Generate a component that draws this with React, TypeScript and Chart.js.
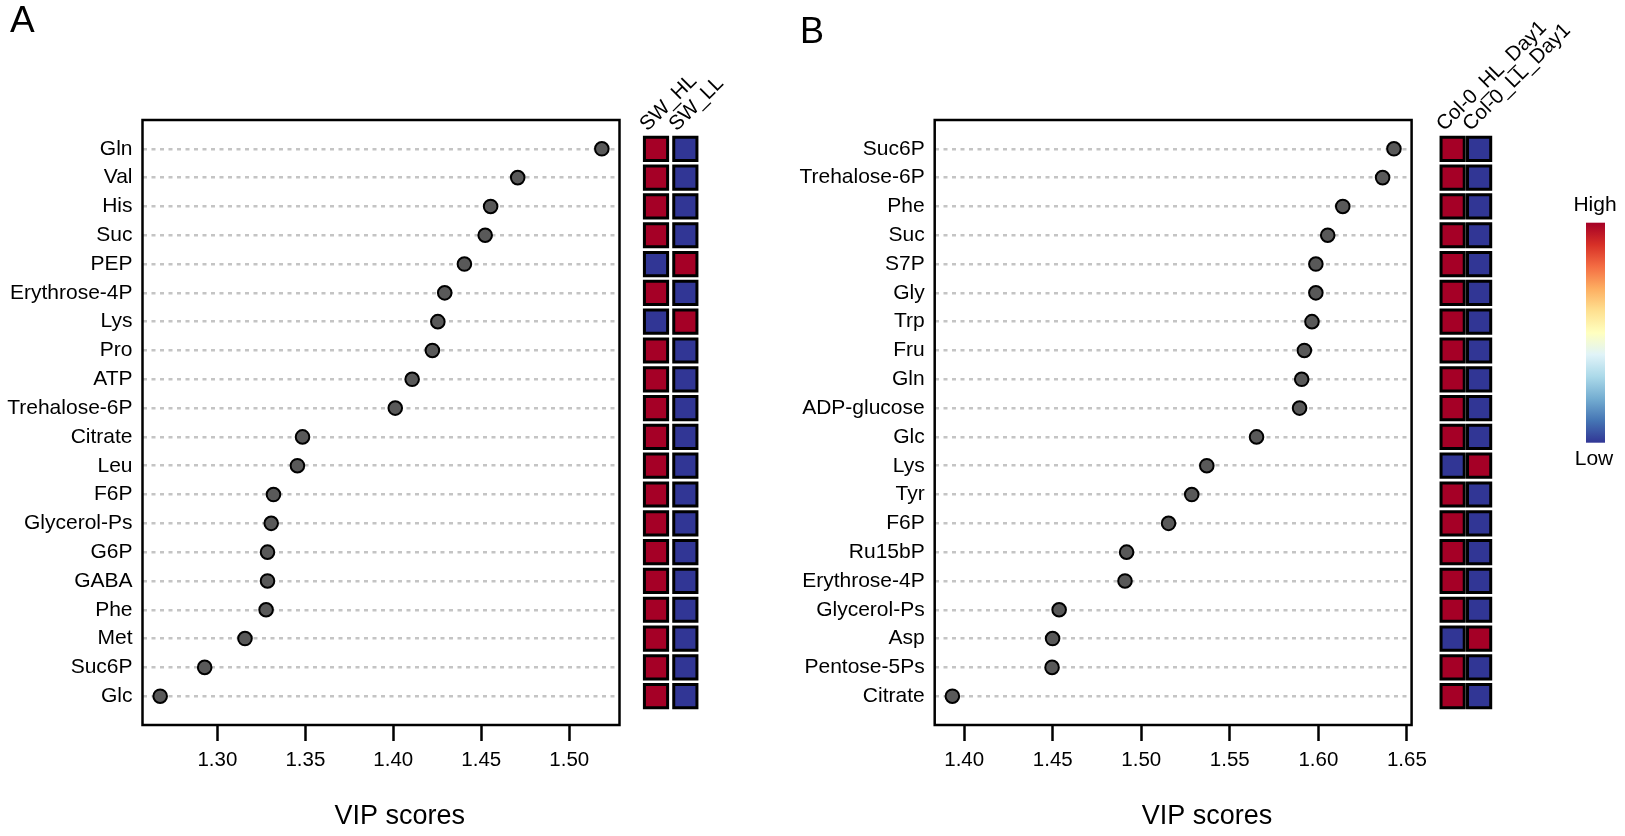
import React, { useEffect, useRef } from 'react';
import { Chart, registerables } from 'chart.js';

Chart.register(...registerables);

// ---------------- Panel A data ----------------
const namesA = ['Gln', 'Val', 'His', 'Suc', 'PEP', 'Erythrose-4P', 'Lys', 'Pro', 'ATP', 'Trehalose-6P', 'Citrate', 'Leu', 'F6P', 'Glycerol-Ps', 'G6P', 'GABA', 'Phe', 'Met', 'Suc6P', 'Glc'];
const vipA = [1.5185, 1.4707, 1.4553, 1.4522, 1.4404, 1.4292, 1.4253, 1.4222, 1.4107, 1.4011, 1.3484, 1.3455, 1.3319, 1.3306, 1.3285, 1.3285, 1.3277, 1.3157, 1.2928, 1.2675];
const groupsA = ['SW_HL', 'SW_LL'];
// 1 = High, 0 = Low
const levelA_HL = [1, 1, 1, 1, 0, 1, 0, 1, 1, 1, 1, 1, 1, 1, 1, 1, 1, 1, 1, 1];
const levelA_LL = [0, 0, 0, 0, 1, 0, 1, 0, 0, 0, 0, 0, 0, 0, 0, 0, 0, 0, 0, 0];
const ticksA = [1.3, 1.35, 1.4, 1.45, 1.5];

// ---------------- Panel B data ----------------
const namesB = ['Suc6P', 'Trehalose-6P', 'Phe', 'Suc', 'S7P', 'Gly', 'Trp', 'Fru', 'Gln', 'ADP-glucose', 'Glc', 'Lys', 'Tyr', 'F6P', 'Ru15bP', 'Erythrose-4P', 'Glycerol-Ps', 'Asp', 'Pentose-5Ps', 'Citrate'];
const vipB = [1.6427, 1.6363, 1.6138, 1.6053, 1.5986, 1.5986, 1.5964, 1.5921, 1.5906, 1.5894, 1.5651, 1.537, 1.5285, 1.5154, 1.4917, 1.4908, 1.4536, 1.4499, 1.4496, 1.3933];
const groupsB = ['Col-0_HL_Day1', 'Col-0_LL_Day1'];
const levelB_HL = [1, 1, 1, 1, 1, 1, 1, 1, 1, 1, 1, 0, 1, 1, 1, 1, 1, 0, 1, 1];
const levelB_LL = [0, 0, 0, 0, 0, 0, 0, 0, 0, 0, 0, 1, 0, 0, 0, 0, 0, 1, 0, 0];
const ticksB = [1.4, 1.45, 1.5, 1.55, 1.6, 1.65];

// ---------------- styles ----------------
const FONT = '"Liberation Sans", Arial, Helvetica, sans-serif';
const HIGH = '#A50026';
const LOW = '#313695';
const RDYLBU = ['#a50026', '#d73027', '#f46d43', '#fdae61', '#fee090', '#ffffbf', '#e0f3f8', '#abd9e9', '#74add1', '#4575b4', '#313695'];
const AREA_TOP = 120;
const AXIS_H = 111;
const H = 836;

const framePlugin = {
  id: 'frame',
  afterDatasetsDraw(chart: any) {
    const { ctx, chartArea: a } = chart;
    ctx.save();
    ctx.strokeStyle = '#000';
    ctx.lineWidth = 2.5;
    ctx.strokeRect(a.left, a.top, a.right - a.left, a.bottom - a.top);
    ctx.restore();
  },
};

function letterPlugin(letter: string, x: number, y: number, size: number) {
  return {
    id: 'letter' + letter,
    afterDraw(chart: any) {
      const ctx = chart.ctx;
      ctx.save();
      ctx.fillStyle = '#000';
      ctx.font = `${size}px ${FONT}`;
      ctx.textAlign = 'left';
      ctx.textBaseline = 'alphabetic';
      ctx.fillText(letter, x, y);
      ctx.restore();
    },
  };
}

function dotConfig(names: string[], vals: number[], ticks: number[], yWidth: number, padRight: number, titleSpaces: number, letter: any) {
  const lo = Math.min(...vals);
  const hi = Math.max(...vals);
  const ext = (hi - lo) * 0.04;
  return {
    type: 'scatter',
    data: {
      datasets: [
        {
          data: vals.map((v, i) => ({ x: v, y: i + 1 })),
          pointRadius: 6.8,
          pointBackgroundColor: '#595959',
          pointBorderColor: '#000',
          pointBorderWidth: 2,
          showLine: false,
          clip: false,
        },
      ],
    },
    options: {
      responsive: false,
      animation: false,
      events: [],
      layout: { padding: { left: 0, right: padRight, top: AREA_TOP, bottom: 0 } },
      plugins: { legend: { display: false }, tooltip: { enabled: false } },
      scales: {
        x: {
          type: 'linear',
          min: lo - ext,
          max: hi + ext,
          afterBuildTicks: (s: any) => {
            s.ticks = ticks.map((v) => ({ value: v }));
          },
          afterFit: (s: any) => {
            s.height = AXIS_H;
          },
          grid: { display: true, drawOnChartArea: false, drawTicks: true, tickLength: 16, tickWidth: 2.5, tickColor: '#000' },
          border: { display: false },
          ticks: {
            callback: (v: any) => Number(v).toFixed(2),
            color: '#000',
            font: { family: FONT, size: 20.5 },
            padding: 7,
            maxRotation: 0,
            autoSkip: false,
          },
          title: {
            display: true,
            text: ' '.repeat(titleSpaces) + 'VIP scores',
            color: '#000',
            font: { family: FONT, size: 27 },
            padding: { top: 0, bottom: 3.5 },
          },
        },
        y: {
          type: 'linear',
          reverse: true,
          min: 0,
          max: names.length + 1,
          afterBuildTicks: (s: any) => {
            s.ticks = names.map((_, i) => ({ value: i + 1 }));
          },
          afterFit: (s: any) => {
            s.width = yWidth;
          },
          grid: { color: '#c4c4c4', lineWidth: 2.5, drawTicks: false },
          border: { display: false, dash: [4, 4.5] },
          ticks: {
            callback: (v: any) => names[Number(v) - 1] ?? '',
            color: '#000',
            font: { family: FONT, size: 21 },
            padding: 10,
            autoSkip: false,
          },
        },
      },
    },
    plugins: [framePlugin, letter],
  };
}

function headerPlugin(groups: string[]) {
  return {
    id: 'headers',
    afterDraw(chart: any) {
      const { ctx } = chart;
      const xs = chart.scales.x;
      const ys = chart.scales.y;
      ctx.save();
      ctx.fillStyle = '#000';
      ctx.font = `20.5px ${FONT}`;
      ctx.textAlign = 'left';
      ctx.textBaseline = 'alphabetic';
      groups.forEach((g, j) => {
        const x = xs.getPixelForValue(j + 1) - 8.5;
        const y = ys.getPixelForValue(1) - 17;
        ctx.save();
        ctx.translate(x, y);
        ctx.rotate(-Math.PI / 4);
        ctx.fillText(g, 0, 0);
        ctx.restore();
      });
      ctx.restore();
    },
  };
}

const colorLegendPlugin = {
  id: 'colorLegend',
  afterDraw(chart: any) {
    const { ctx } = chart;
    const x0 = 166, x1 = 185, y0 = 222.7, y1 = 442.7;
    ctx.save();
    const g = ctx.createLinearGradient(0, y0, 0, y1);
    RDYLBU.forEach((c, i) => g.addColorStop(i / (RDYLBU.length - 1), c));
    ctx.fillStyle = g;
    ctx.fillRect(x0, y0, x1 - x0, y1 - y0);
    ctx.fillStyle = '#000';
    ctx.font = `21px ${FONT}`;
    ctx.textAlign = 'center';
    ctx.textBaseline = 'middle';
    ctx.fillText('High', 175, 205);
    ctx.fillText('Low', 174, 459);
    ctx.restore();
  },
};

function heatConfig(hl: number[], ll: number[], groups: string[], padLeft: number, padRight: number, extra: any[]) {
  const cells: { x: number; y: number }[] = [];
  const colors: string[] = [];
  [hl, ll].forEach((arr, j) => {
    arr.forEach((lvl, i) => {
      cells.push({ x: j + 1, y: i + 1 });
      colors.push(lvl ? HIGH : LOW);
    });
  });
  return {
    type: 'scatter',
    data: {
      datasets: [
        {
          data: cells,
          pointStyle: 'rect',
          pointRadius: 16.4,
          pointBackgroundColor: colors,
          pointBorderColor: '#000',
          pointBorderWidth: 3,
          showLine: false,
          clip: false,
        },
      ],
    },
    options: {
      responsive: false,
      animation: false,
      events: [],
      layout: { padding: { left: padLeft, right: padRight, top: AREA_TOP, bottom: AXIS_H } },
      plugins: { legend: { display: false }, tooltip: { enabled: false } },
      scales: {
        x: { type: 'linear', min: 0.5, max: 2.5, display: false },
        y: { type: 'linear', min: 0, max: hl.length + 1, reverse: true, display: false },
      },
    },
    plugins: [headerPlugin(groups), ...extra],
  };
}

export default function App() {
  const dotA = useRef<HTMLCanvasElement>(null);
  const heatA = useRef<HTMLCanvasElement>(null);
  const dotB = useRef<HTMLCanvasElement>(null);
  const heatB = useRef<HTMLCanvasElement>(null);

  useEffect(() => {
    const charts: Chart[] = [];
    charts.push(
      new Chart(dotA.current as any, dotConfig(namesA, vipA, ticksA, 142.5, 640 - 619.5, 5, letterPlugin('A', 10, 31.7, 37)) as any)
    );
    charts.push(new Chart(heatA.current as any, heatConfig(levelA_HL, levelA_LL, groupsA, 641.35 - 620, 780 - 700, []) as any));
    charts.push(
      new Chart(dotB.current as any, dotConfig(namesB, vipB, ticksB, 934.7 - 780, 1460 - 1411.6, 9, letterPlugin('B', 20, 43.3, 36)) as any)
    );
    charts.push(
      new Chart(heatB.current as any, heatConfig(levelB_HL, levelB_LL, groupsB, 1432.95 - 1420, 1625 - 1492.35, [colorLegendPlugin]) as any)
    );
    return () => charts.forEach((c) => c.destroy());
  }, []);

  const abs = (left: number): React.CSSProperties => ({ position: 'absolute', left, top: 0 });

  return (
    <div style={{ position: 'absolute', left: 0, top: 0, width: 1625, height: H, background: '#fff', overflow: 'hidden' }}>
      <canvas ref={dotA} width={640} height={H} style={abs(0)} />
      <canvas ref={heatA} width={160} height={H} style={abs(620)} />
      <canvas ref={dotB} width={680} height={H} style={abs(780)} />
      <canvas ref={heatB} width={205} height={H} style={abs(1420)} />
    </div>
  );
}
